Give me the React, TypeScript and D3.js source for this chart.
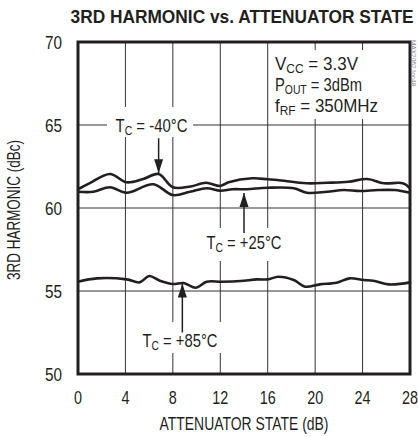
import React from "react";
import * as d3 from "d3";

const xTicks = [0, 4, 8, 12, 16, 20, 24, 28];
const yTicks = [50, 55, 60, 65, 70];

const m40X = [0, 1, 2.7, 4.1, 5.5, 6.8, 8.0, 9.5, 10.8, 12.0, 12.7, 14.7, 16.0, 16.8, 19.3, 21.0, 22.8, 24.4, 25.8, 27.4, 28];
const m40Y = [61.13, 61.5, 62.05, 61.55, 61.75, 62.05, 61.25, 61.3, 61.52, 61.33, 61.55, 61.79, 61.73, 61.69, 61.49, 61.52, 61.58, 61.75, 61.49, 61.49, 61.19];

const p25X = [0, 1.3, 2.7, 4.1, 6.35, 8.0, 9.45, 10.85, 12.0, 13.0, 14.2, 16.0, 18.2, 19.3, 21.0, 22.4, 23.8, 25.3, 26.7, 28];
const p25Y = [60.98, 60.98, 61.25, 60.92, 61.43, 60.78, 60.98, 61.19, 61.04, 61.13, 61.13, 61.22, 61.19, 60.92, 60.98, 61.08, 61.02, 61.08, 61.08, 60.92];

const p85X = [0, 1.6, 4.1, 5.2, 6.0, 6.9, 8.0, 8.9, 9.95, 10.85, 12.1, 13.7, 15.1, 16.0, 16.9, 18.2, 19.15, 20.4, 21.8, 22.9, 24.1, 24.9, 26.2, 28];
const p85Y = [55.56, 55.76, 55.7, 55.52, 55.9, 55.62, 55.42, 55.48, 55.2, 55.56, 55.56, 55.6, 55.7, 55.7, 55.86, 55.66, 55.26, 55.4, 55.5, 55.76, 55.66, 55.62, 55.4, 55.52];

// annotation anchors (data units)
const labelTemps = ["-40°C", "+25°C", "+85°C"];
const labelX = [6.2, 14.0, 8.6];
const labelY = [65, 57.9, 52.0];
const labelW = [72, 75, 75];
const arrowX = [6.8, 14.0, 8.8];
const arrowTail = [64.2, 58.5, 52.5];
const arrowTip = [62.1, 60.9, 55.45];

const FONT = "'Liberation Sans', Arial, sans-serif";
const INK = "#231f20";

export default function App() {
  const W = 418, H = 437;
  const x = d3.scaleLinear().domain([0, 28]).range([78, 410]);
  const y = d3.scaleLinear().domain([50, 70]).range([374, 42]);
  const line = d3
    .line<[number, number]>()
    .x((d) => x(d[0]))
    .y((d) => y(d[1]))
    .curve(d3.curveCatmullRom.alpha(0.5));
  const series = [
    m40X.map((v, i) => [v, m40Y[i]] as [number, number]),
    p25X.map((v, i) => [v, p25Y[i]] as [number, number]),
    p85X.map((v, i) => [v, p85Y[i]] as [number, number]),
  ];
  const fs = 18.5;
  const sub = 13;
  return (
    <svg width={W} height={H} style={{ position: "absolute", left: 0, top: 0, background: "#fff" }} fontFamily={FONT}>
      <rect x={0} y={0} width={W} height={H} fill="#fff" />
      <text x={242} y={23} textAnchor="middle" fontWeight="bold" fontSize={19} textLength={343} lengthAdjust="spacingAndGlyphs" fill={INK}>
        3RD HARMONIC vs. ATTENUATOR STATE
      </text>
      {/* gridlines */}
      {xTicks.slice(1, -1).map((t) => (
        <line key={"gx" + t} x1={x(t)} x2={x(t)} y1={y(70)} y2={y(50)} stroke="#333" strokeWidth={1} />
      ))}
      {yTicks.slice(1, -1).map((t) => (
        <line key={"gy" + t} x1={x(0)} x2={x(28)} y1={y(t)} y2={y(t)} stroke="#333" strokeWidth={1} />
      ))}
      {/* white label boxes */}
      <rect x={270} y={50} width={138} height={69} fill="#fff" />
      <rect x={107} y={107} width={86} height={30} fill="#fff" />
      <rect x={204} y={228} width={82} height={33} fill="#fff" />
      <rect x={140} y={322} width={84} height={31} fill="#fff" />
      {/* curves */}
      {series.map((s, i) => (
        <path key={"s" + i} d={line(s) || ""} fill="none" stroke={INK} strokeWidth={2.6} strokeLinejoin="round" />
      ))}
      {/* frame */}
      <rect x={x(0)} y={y(70)} width={x(28) - x(0)} height={y(50) - y(70)} fill="none" stroke={INK} strokeWidth={3} />
      {/* tick labels */}
      {yTicks.map((t) => (
        <text key={"yl" + t} x={62} y={y(t) + 7} textAnchor="end" fontSize={18.5} textLength={17} lengthAdjust="spacingAndGlyphs" fill={INK}>
          {t}
        </text>
      ))}
      {xTicks.map((t) => (
        <text key={"xl" + t} x={x(t)} y={404} textAnchor="middle" fontSize={18.5} textLength={String(t).length * 8} lengthAdjust="spacingAndGlyphs" fill={INK}>
          {t}
        </text>
      ))}
      <text x={244} y={430} textAnchor="middle" fontSize={18.5} textLength={169} lengthAdjust="spacingAndGlyphs" fill={INK}>
        ATTENUATOR STATE (dB)
      </text>
      <text transform={`translate(${20},${210}) rotate(-90)`} textAnchor="middle" fontSize={17.5} textLength={140} lengthAdjust="spacingAndGlyphs" fill={INK}>
        3RD HARMONIC (dBc)
      </text>
      {/* conditions */}
      <text x={275} y={70} fontSize={fs} textLength={83} lengthAdjust="spacingAndGlyphs" fill={INK}>
        V<tspan fontSize={sub} dy={3}>CC</tspan>
        <tspan dy={-3}> = 3.3V</tspan>
      </text>
      <text x={275} y={91} fontSize={fs} textLength={87} lengthAdjust="spacingAndGlyphs" fill={INK}>
        P<tspan fontSize={sub} dy={3}>OUT</tspan>
        <tspan dy={-3}> = 3dBm</tspan>
      </text>
      <text x={275} y={112} fontSize={fs} textLength={103} lengthAdjust="spacingAndGlyphs" fill={INK}>
        f<tspan fontSize={sub} dy={3}>RF</tspan>
        <tspan dy={-3}> = 350MHz</tspan>
      </text>
      {/* annotations */}
      {labelTemps.map((t, i) => (
        <g key={"a" + i}>
          <text
            x={x(labelX[i]) - labelW[i] / 2}
            y={y(labelY[i]) + 6.5}
            fontSize={fs}
            textLength={labelW[i]}
            lengthAdjust="spacingAndGlyphs"
            fill={INK}
          >
            T<tspan fontSize={sub} dy={3}>C</tspan>
            <tspan dy={-3}> = {t}</tspan>
          </text>
          <line x1={x(arrowX[i])} x2={x(arrowX[i])} y1={y(arrowTail[i])} y2={y(arrowTip[i])} stroke={INK} strokeWidth={1.5} />
          <path
            d={(() => {
              const tx = x(arrowX[i]);
              const ty = y(arrowTip[i]);
              const dir = arrowTip[i] < arrowTail[i] ? -1 : 1;
              return `M${tx},${ty} L${tx - 4.5},${ty + dir * 14} L${tx + 4.5},${ty + dir * 14} Z`;
            })()}
            fill={INK}
          />
        </g>
      ))}
      <text transform={`translate(${411},${40}) rotate(90)`} fontSize={6.5} fill="#888">
        MAX2062 toc48
      </text>
    </svg>
  );
}
